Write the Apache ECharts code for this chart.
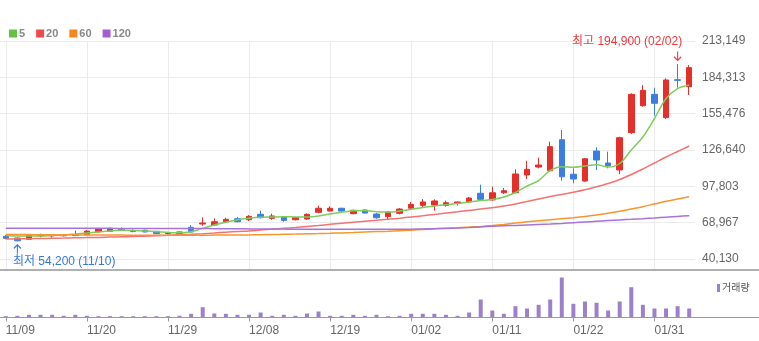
<!DOCTYPE html>
<html>
<head>
<meta charset="utf-8">
<script src="https://cdn.jsdelivr.net/npm/echarts@6/dist/echarts.min.js"></script>
<style>
  html, body { margin: 0; padding: 0; background: #fff; }
  #chart { width: 759px; height: 341px; }
</style>
</head>
<body>
<div id="chart"></div>
<script>
// Trading days shown on the chart
const dates = [
  '11/09','11/10','11/13','11/14','11/15','11/16','11/17','11/20','11/21','11/22',
  '11/23','11/24','11/27','11/28','11/29','11/30','12/01','12/04','12/05','12/06',
  '12/07','12/08','12/11','12/12','12/13','12/14','12/15','12/18','12/19','12/20',
  '12/21','12/22','12/26','12/27','12/28','01/02','01/03','01/04','01/05','01/08',
  '01/09','01/10','01/11','01/12','01/15','01/16','01/17','01/18','01/19','01/22',
  '01/23','01/24','01/25','01/26','01/29','01/30','01/31','02/01','02/02','02/05'
];

// Daily prices
const opens = [
  58100, 56800, 55800, 58600, 58500, 58600, 58700, 59400, 61800, 62100,
  63900, 62600, 62900, 62100, 60300, 60200, 65300, 67900, 67100, 69700,
  72100, 71300, 75600, 72400, 73500, 71300, 71900, 77200, 78200, 80400,
  76100, 79000, 75800, 73700, 76400, 80400, 82700, 83000, 82700, 84300,
  85400, 92300, 87000, 92700, 92700, 106800, 113100, 110200, 134800, 107400,
  102000, 125800, 116300, 110800, 140400, 161800, 170800, 152300, 182400, 176900
];
const closes = [
  56500, 54600, 58900, 59200, 58900, 59000, 59300, 62300, 64200, 64500,
  63300, 62000, 61600, 60200, 60900, 61600, 61600, 68700, 69700, 71600,
  69700, 74000, 72900, 74300, 70800, 72900, 75600, 80400, 80400, 78200,
  78800, 76600, 72900, 77200, 79800, 83500, 85400, 86200, 84800, 85400,
  88500, 87500, 92700, 94300, 107600, 111300, 114700, 129300, 105400, 103600,
  119700, 118700, 114200, 136400, 170800, 174000, 163700, 182200, 181900, 192000
];
const lows = [
  55800, 54200, 55600, 57400, 57200, 58000, 58400, 59000, 60800, 61800,
  62300, 61300, 61200, 59900, 59600, 59800, 60800, 66500, 66600, 68900,
  69300, 70300, 72400, 71300, 69700, 70800, 71300, 76400, 78000, 77200,
  75600, 76400, 72100, 71700, 75600, 79600, 81200, 78500, 81600, 82700,
  84800, 86200, 86400, 91700, 92300, 103600, 112100, 109400, 102300, 100200,
  101500, 110800, 112100, 107400, 139300, 161000, 153900, 151200, 176100, 170300
];
const highs = [
  59200, 57300, 59100, 60200, 59900, 59600, 62600, 63000, 64400, 64700,
  65300, 63700, 63500, 62400, 61300, 62000, 67100, 73200, 72400, 72900,
  73500, 75000, 78500, 76100, 74000, 73500, 76400, 82400, 82000, 80800,
  79300, 79600, 76600, 78200, 80600, 85400, 87700, 87500, 86400, 85600,
  89300, 99100, 97500, 96500, 111300, 118100, 120500, 133200, 142500, 112100,
  120300, 128800, 125300, 137200, 171600, 178200, 176100, 183500, 194900, 194000
];

// Moving averages (5 / 20 / 60 / 120 days)
const ma5 = [
  58800, 58400, 58400, 58400, 58800, 59200, 60000, 60800, 61550, 62350,
  62900, 62750, 62350, 61800, 61300, 61000, 61800, 64500, 67100, 69250,
  71300, 72400, 73200, 73460, 73700, 73460, 73460, 74250, 75840, 77190,
  78400, 78600, 77650, 77430, 78220, 79570, 81000, 82190, 83220, 84170,
  85360, 86550, 87350, 89330, 92900, 98060, 102430, 110400, 113400, 112900,
  114000, 115000, 113140, 115920, 126640, 136950, 151640, 167510, 175400, 178230
];
const ma20 = [
  56000, 56150, 56230, 56390, 56550, 56710, 56950, 57100, 57260, 57500,
  57740, 57980, 58220, 58610, 59010, 59490, 59800, 60200, 60760, 61390,
  61950, 62420, 63140, 63770, 64490, 65120, 65910, 66710, 67660, 68530,
  69330, 70120, 70920, 71710, 72510, 73460, 74410, 75520, 76550, 77580,
  78700, 79810, 80840, 82190, 83780, 85760, 87750, 89730, 91320, 93070,
  95050, 97430, 100050, 103220, 107190, 111560, 116320, 121080, 125450, 129810
];
const ma60 = [
  59570, 59570, 59490, 59410, 59330, 59330, 59250, 59170, 59170, 59090,
  59090, 59010, 59010, 58930, 58930, 58930, 58930, 59010, 59090, 59170,
  59170, 59250, 59410, 59570, 59730, 59890, 60120, 60280, 60520, 60840,
  61150, 61550, 61870, 62190, 62590, 62980, 63540, 64090, 64570, 64970,
  65440, 66000, 66710, 67590, 68620, 69650, 70520, 71320, 72110, 72900,
  73860, 75050, 76390, 77980, 79810, 81630, 83780, 85920, 87750, 89570
];
const ma120 = [
  64520, 64510, 64500, 64490, 64490, 64480, 64470, 64460, 64450, 64440,
  64430, 64420, 64400, 64390, 64370, 64350, 64320, 64280, 64220, 64150,
  64080, 64010, 63950, 63900, 63850, 63810, 63780, 63750, 63730, 63710,
  63700, 63700, 63710, 63730, 63760, 63820, 63970, 64170, 64410, 64730,
  65120, 65600, 66080, 66470, 66790, 67190, 67590, 67900, 68380, 68930,
  69490, 70040, 70600, 71160, 71630, 72110, 72660, 73300, 73930, 74490
];

// Daily traded volume (shares)
const volumes = [
  65000, 85000, 135000, 135000, 135000, 85000, 135000, 85000, 65000, 65000,
  65000, 65000, 65000, 65000, 65000, 85000, 185000, 515000, 200000, 185000,
  135000, 135000, 250000, 85000, 135000, 85000, 200000, 300000, 85000, 85000,
  135000, 85000, 135000, 65000, 85000, 185000, 185000, 185000, 135000, 85000,
  250000, 900000, 350000, 185000, 565000, 450000, 635000, 900000, 2000000, 685000,
  800000, 735000, 350000, 800000, 1515000, 635000, 450000, 450000, 565000, 450000
];

// Labelled dates on the time axis and price levels on the right axis
const xTickLabels = ['11/09','11/20','11/29','12/08','12/19','01/02','01/11','01/22','01/31'];
const yTickValues = [40130, 68967, 97803, 126640, 155476, 184313, 213149];

const FONT = "'Liberation Sans', 'Noto Sans CJK KR', sans-serif";
const UP = '#e3302a';
const DOWN = '#3c7ee0';

const fmt = v => Math.round(v).toLocaleString('en-US');

const candles = dates.map((d, i) => [opens[i], closes[i], lows[i], highs[i]]);

// Extremes for the high/low annotations
let iMax = 0, iMin = 0;
highs.forEach((v, i) => { if (v > highs[iMax]) iMax = i; });
lows.forEach((v, i) => { if (v < lows[iMin]) iMin = i; });

const isTickDate = (idx) => xTickLabels.indexOf(dates[idx]) >= 0;

const chart = echarts.init(document.getElementById('chart'), null, { renderer: 'canvas' });

chart.setOption({
  animation: false,
  backgroundColor: '#fff',
  textStyle: { fontFamily: FONT },
  legend: [
    {
      data: ['5', '20', '60', '120'],
      left: 4, top: 23,
      icon: 'rect', itemWidth: 8, itemHeight: 8, itemGap: 11,
      textStyle: { color: '#888', fontSize: 11, fontWeight: 'bold', fontFamily: FONT, padding: [0, 0, 0, -3] },
      selectedMode: false
    },
    {
      data: ['거래량'],
      left: 712, top: 278,
      icon: 'rect', itemWidth: 3, itemHeight: 8,
      textStyle: { color: '#555', fontSize: 10, fontFamily: FONT, padding: [0, 0, 0, -3] },
      selectedMode: false
    }
  ],
  grid: [
    { left: -3.5, right: 64, top: 41, height: 229 },
    { left: -3.5, right: 64, top: 270, height: 47.5 }
  ],
  xAxis: [
    {
      type: 'category', gridIndex: 0, data: dates, boundaryGap: true,
      axisLine: { show: false }, axisTick: { show: false }, axisLabel: { show: false },
      splitLine: {
        show: true, alignWithLabel: true,
        interval: (idx) => isTickDate(idx),
        lineStyle: { color: '#ebebeb', width: 1 }
      }
    },
    {
      type: 'category', gridIndex: 1, data: dates, boundaryGap: true,
      axisLine: { show: false },
      axisTick: {
        show: true, alignWithLabel: true, length: 4,
        interval: (idx) => isTickDate(idx),
        lineStyle: { color: '#999' }
      },
      axisLabel: {
        show: true, interval: (idx) => isTickDate(idx),
        align: 'left', margin: 7,
        color: '#666', fontSize: 12, fontFamily: FONT
      },
      splitLine: { show: false }
    }
  ],
  yAxis: [
    {
      type: 'value', gridIndex: 0, position: 'right',
      min: 31400, max: 213149,
      axisLine: { show: false },
      axisTick: { show: false, customValues: yTickValues },
      axisLabel: {
        customValues: yTickValues, margin: 7,
        color: '#666', fontSize: 12, fontFamily: FONT,
        formatter: v => fmt(v)
      },
      splitLine: { show: true, lineStyle: { color: '#ebebeb', width: 1 } }
    },
    {
      type: 'value', gridIndex: 1, min: 0, max: 2375000, show: false,
      splitLine: { show: false }
    }
  ],
  series: [
    {
      name: '5', type: 'line', data: ma5, xAxisIndex: 0, yAxisIndex: 0,
      symbol: 'none', smooth: 0.3, color: '#62c447',
      lineStyle: { width: 1.5, color: '#7ccd5e' }
    },
    {
      name: '20', type: 'line', data: ma20, xAxisIndex: 0, yAxisIndex: 0,
      symbol: 'none', smooth: 0.3, color: '#ee4a4a',
      lineStyle: { width: 1.5, color: '#f47272' }
    },
    {
      name: '60', type: 'line', data: ma60, xAxisIndex: 0, yAxisIndex: 0,
      symbol: 'none', smooth: 0.3, color: '#f5861f',
      lineStyle: { width: 1.5, color: '#f7962f' }
    },
    {
      name: '120', type: 'line', data: ma120, xAxisIndex: 0, yAxisIndex: 0,
      symbol: 'none', smooth: 0.3, color: '#a15fd2',
      lineStyle: { width: 1.5, color: '#a873d8' }
    },
    {
      name: '가격', type: 'candlestick', data: candles, xAxisIndex: 0, yAxisIndex: 0,
      barWidth: 6,
      itemStyle: { color: UP, color0: DOWN, borderColor: UP, borderColor0: DOWN, borderWidth: 1 },
      markPoint: {
        silent: true,
        data: [
          {
            coord: [iMax, highs[iMax]], symbol: 'circle', symbolSize: 1,
            itemStyle: { color: 'rgba(0,0,0,0)' },
            label: {
              show: true, formatter: '최고 ' + fmt(highs[iMax]) + ' (' + dates[iMax] + ')',
              position: [5, -22], align: 'right', verticalAlign: 'middle',
              color: '#ee3a3f', fontSize: 12, fontFamily: FONT
            }
          },
          {
            coord: [iMax, highs[iMax]],
            symbol: 'path://M4,0 L4,10 M0,6 L4,10 L8,6', symbolSize: [7, 9], symbolOffset: [0, -8],
            itemStyle: { color: 'rgba(0,0,0,0)', borderColor: '#ee3a3f', borderWidth: 1.2 },
            label: { show: false }
          },
          {
            coord: [iMin, lows[iMin]], symbol: 'circle', symbolSize: 1,
            itemStyle: { color: 'rgba(0,0,0,0)' },
            label: {
              show: true, formatter: '최저 ' + fmt(lows[iMin]) + ' (' + dates[iMin] + ')',
              position: [-4, 20.5], align: 'left', verticalAlign: 'middle',
              color: '#3a78d6', fontSize: 12, fontFamily: FONT
            }
          },
          {
            coord: [iMin, lows[iMin]],
            symbol: 'path://M4,10 L4,0 M0,4 L4,0 L8,4', symbolSize: [7, 9], symbolOffset: [0, 8],
            itemStyle: { color: 'rgba(0,0,0,0)', borderColor: '#3a78d6', borderWidth: 1.2 },
            label: { show: false }
          }
        ]
      }
    },
    {
      name: '거래량', type: 'bar', data: volumes, xAxisIndex: 1, yAxisIndex: 1,
      barWidth: 4, color: '#9c80cc', itemStyle: { color: '#9c80cc' }
    }
  ],
  graphic: [
    {
      type: 'line', silent: true, z: 10,
      shape: { x1: 0, y1: 270, x2: 759, y2: 270 },
      style: { stroke: '#b0b0b0', lineWidth: 2 }
    },
    {
      type: 'line', silent: true, z: 10,
      shape: { x1: 0, y1: 317.5, x2: 759, y2: 317.5 },
      style: { stroke: '#9a9a9a', lineWidth: 1 }
    }
  ]
});
</script>
</body>
</html>
